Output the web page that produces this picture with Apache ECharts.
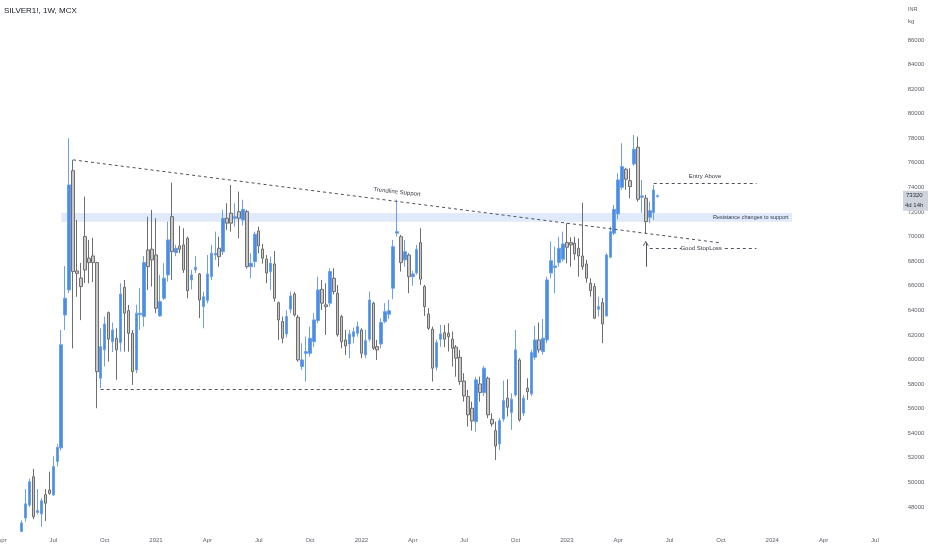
<!DOCTYPE html>
<html><head><meta charset="utf-8">
<script src="https://cdn.jsdelivr.net/npm/echarts@6/dist/echarts.min.js"></script>
<style>html,body{margin:0;padding:0;background:#fff}#c{width:932px;height:550px}</style>
</head><body><div id="c"></div>
<script>
// ---- axis / categories ----
const axisStartWeek = '2020-04-06';
const axisWeekCount = 227;
const firstCandleWeek = '2020-05-11';
const monthNames = ['Jan','Feb','Mar','Apr','May','Jun','Jul','Aug','Sep','Oct','Nov','Dec'];
const quarterMonths = [1, 4, 7, 10];

// ---- weekly OHLC (SILVER1!, MCX) ----
const open = [46000,47100,48150,50460,47550,47430,49000,49380,48980,51700,52800,63620,65660,75360,67200,66630,70000,68240,68420,67880,
58470,60780,63810,61450,61730,61370,65880,63970,62130,59150,63640,63490,68910,68970,68500,63540,64980,66880,71620,68690,
69240,69320,69860,66470,67290,66960,64300,64790,66740,68500,69050,68770,71490,71900,71490,72030,71350,72030,67550,67960,
70460,68990,68160,67150,67770,64620,63080,62080,64090,65330,63440,59420,60500,60500,61450,63160,65710,64440,64580,66610,
65390,63490,61590,61260,61860,62130,62400,60370,61650,64580,61040,61260,63080,63680,65800,70270,69990,68100,68500,66740,
67040,69510,65930,63700,62460,59370,61650,62180,62130,61650,61000,60180,58250,56980,56030,54940,58010,57300,58470,55130,
54210,53130,55160,56850,55680,57110,59960,55630,57660,57200,60180,61590,60640,61590,67040,67480,67880,68160,69510,69510,
69460,69050,68420,67770,66200,65930,64090,64620,63540,68320,70270,71840,74010,75480,74550,75910,77270,73200,73120,71570,
71950,73250];
const close = [46700,48250,50050,47200,47700,48500,48300,49110,51280,52850,61200,64980,74200,67150,67000,65930,67280,67880,67880,59010,
61040,62890,61650,62400,60780,65330,63760,62130,59010,63760,63760,67880,67550,68100,64170,64700,66610,69730,68770,69050,
68970,67290,65600,66880,67500,64840,65110,66960,68640,68640,68370,71490,71090,71090,71620,71490,72220,67550,67830,70190,
69240,68240,67040,67830,64980,63220,61730,63490,65170,63620,59960,59960,60640,61730,63220,65660,64580,64300,67150,65520,
62000,61450,61100,62080,62260,62670,60500,61530,64840,60910,60780,63000,63890,63970,69180,70400,67880,68770,66740,66960,
68970,66530,64300,62540,59290,61370,62080,61650,61860,60910,60100,58200,57030,55490,55000,58340,57300,59290,55490,54750,
52960,55020,56650,56110,56760,60780,55080,56850,57380,60560,61590,60780,61730,66470,68040,67610,69050,69400,69130,69320,
68590,68420,67550,66610,65600,63360,64300,62890,68500,70400,72220,74610,75690,74670,74060,77110,73040,73310,71220,72110,
73790,73320];
const low = [46000,46800,48000,47000,47400,46400,46850,48980,48900,51300,52600,62400,65400,60900,65100,63200,66230,66200,66300,56030,
57660,59420,59820,60600,58340,60640,60640,60640,57930,58900,62400,62670,65660,65930,63760,63500,64840,66330,66470,68400,
68640,67040,64980,65700,67040,63360,62540,64560,66470,68100,67550,68500,70540,70400,70800,69860,70900,67400,66610,67500,
68640,67800,66200,65660,64700,61590,61320,61800,63760,63500,59820,59150,58200,60230,61000,62950,64030,62000,64300,65300,
61860,60910,60370,60100,61300,61860,60100,60100,61450,60780,59960,60900,62950,63300,64900,69990,67150,67550,65390,66000,
66900,66060,63540,62400,58200,59100,61040,61000,60640,59420,58600,57930,56570,54530,54210,54130,56570,57030,55220,54530,
51820,52640,54940,55350,54270,56980,54940,55400,56710,57000,59960,60550,60400,61320,66610,65390,67550,67960,67830,67550,
68100,66740,67290,66250,65110,63280,63490,61320,63490,68240,70130,71410,73790,73800,73120,75750,72840,71950,70270,71090,
71350,73180];
const high = [46900,49450,50300,51100,49450,48700,49450,50870,52100,53100,62400,67600,78000,76240,71350,67850,73250,69730,69900,67950,
62540,63490,63900,63000,62540,66200,66470,64440,62400,64440,65800,68420,71620,72170,71490,66880,67830,71220,74390,69320,
70870,70680,70000,67300,68420,67040,65520,68500,69320,70400,70000,72170,72710,74200,72710,73660,73000,72170,68640,70400,
70810,69400,68500,68370,68830,64700,63490,64000,65520,65500,63620,61320,61860,62670,63760,66740,66470,66200,67420,67420,
66060,63620,62400,62400,62600,63080,62540,62400,65520,64700,61590,63350,64580,64850,69730,73000,70130,69730,68640,67200,
69320,70680,66060,64170,62670,61600,62810,62800,62940,62260,61180,60780,58880,57520,56570,58600,58600,59470,58600,55620,
54940,55220,58280,58390,57250,62400,60100,57100,58470,60780,62730,63000,63300,66740,69590,69180,69990,70400,71090,69940,
69990,69860,72760,68100,66610,66200,65110,65000,68640,70810,72570,75150,77590,75600,75560,78270,78130,74610,73390,72840,
74200,73420];
const lastPrice = 73320;
const barCountdown = '4d 14h';

// ---- drawings (data coordinates: week, price) ----
const trendline = [['2020-08-10', 76240], ['2023-10-02', 69480]];
const supportBase = [['2020-09-28', 57600], ['2022-06-13', 57600]];
const entryLine = [['2023-06-05', 74340], ['2023-12-04', 74340]];
const stopLeft = [['2023-05-29', 69050], ['2023-07-24', 69050]];
const stopRight = [['2023-10-09', 69050], ['2023-12-04', 69050]];
const arrowUp = [['2023-05-22', 67550], ['2023-05-22', 69460]];
const zone = [['2020-07-20', 71920], ['2024-02-05', 71200]];
const notes = [
  {text: 'Trendline Support', week: '2022-03-07', price: 73630, rotate: -6, align: 'center'},
  {text: 'Entry Above', week: '2023-09-04', price: 74880, rotate: 0, align: 'center'},
  {text: 'Good StopLoss', week: '2023-08-28', price: 69050, rotate: 0, align: 'center'},
  {text: 'Resistance changes to support', week: '2023-09-18', price: 71573, rotate: 0, align: 'left'}
];

// ---- build ----
function addDays(s, d) { const t = new Date(s + 'T00:00:00Z'); t.setUTCDate(t.getUTCDate() + d); return t.toISOString().slice(0, 10); }
const weeks = [];
for (let i = 0; i < axisWeekCount; i++) weeks.push(addDays(axisStartWeek, i * 7));
const offset = weeks.indexOf(firstCandleWeek);
const candles = weeks.map((w, i) => {
  const k = i - offset;
  return (k >= 0 && k < open.length) ? [open[k], close[k], low[k], high[k]] : '-';
});
function isQuarterStart(i) {
  const m = +weeks[i].slice(5, 7);
  if (quarterMonths.indexOf(m) < 0) return false;
  return i === 0 || weeks[i - 1].slice(5, 7) !== weeks[i].slice(5, 7);
}
const seg = (p) => [{coord: p[0]}, {coord: p[1]}];
const chevron = 'path://M0,10 L5,0 L10,10 L8.4,10 L5,3.2 L1.6,10 Z';
const FONT = "'Liberation Sans', Arial, sans-serif";

const chart = echarts.init(document.getElementById('c'), null, {renderer: 'canvas'});
chart.setOption({
  animation: false,
  backgroundColor: '#ffffff',
  grid: {left: 0, right: 35.35, top: 0, bottom: 18.5, containLabel: false, outerBoundsMode: 'none'},
  xAxis: {
    type: 'category', data: weeks, boundaryGap: true,
    axisLine: {show: false}, axisTick: {show: false}, splitLine: {show: false},
    axisLabel: {
      interval: (i) => isQuarterStart(i),
      formatter: (v) => { const m = +v.slice(5, 7); return m === 1 ? v.slice(0, 4) : monthNames[m - 1]; },
      color: '#5d606b', fontSize: 6, fontFamily: FONT, margin: 6, hideOverlap: false
    }
  },
  yAxis: {
    type: 'value', position: 'right', min: 46000, max: 89250, interval: 2000, scale: true,
    axisLine: {show: false}, axisTick: {show: false}, splitLine: {show: false},
    axisLabel: {
      showMaxLabel: false, showMinLabel: false,
      formatter: (v) => (v >= 88000 || v <= 46000) ? '' : String(v),
      color: '#5d606b', fontSize: 6, fontFamily: FONT, margin: 11, align: 'left'
    }
  },
  series: [{
    type: 'candlestick', data: candles, barWidth: 3,
    itemStyle: {color: '#4a8de2', color0: '#c8c8c8', borderColor: '#6aa1ea', borderColor0: '#6e6e6e', borderWidth: 1},
    markArea: {
      silent: true,
      itemStyle: {color: 'rgba(180,206,245,0.42)'},
      data: [[{coord: zone[0]}, {coord: zone[1]}]]
    },
    markLine: {
      silent: true, symbol: ['none', 'none'],
      lineStyle: {color: '#4e515c', width: 1, type: [3, 3]},
      label: {show: false},
      data: [seg(trendline), seg(supportBase), seg(entryLine), seg(stopLeft), seg(stopRight),
        [{coord: arrowUp[0], symbol: 'none', lineStyle: {type: 'solid', color: '#4e515c', width: 1}},
         {coord: arrowUp[1], symbol: chevron, symbolSize: [6, 5], lineStyle: {type: 'solid', color: '#4e515c', width: 1}}]]
    },
    markPoint: {
      silent: true, symbol: 'circle', symbolSize: 0,
      data: notes.map(n => ({
        coord: [n.week, n.price],
        label: {show: true, position: 'inside', formatter: n.text, rotate: n.rotate, align: n.align,
          color: '#363a45', fontSize: n.align === 'left' ? 5.5 : 6, fontFamily: FONT}
      }))
    }
  }]
});

const py = chart.convertToPixel({yAxisIndex: 0}, lastPrice);
chart.setOption({
  graphic: [
    {type: 'text', left: 4, top: 7, style: {text: 'SILVER1!, 1W, MCX', fill: '#131722', font: "8px 'Liberation Sans Narrow', 'Liberation Sans', sans-serif"}},
    {type: 'text', left: 908, top: 6, style: {text: 'INR', fill: '#5d606b', font: "5.5px 'Liberation Sans', sans-serif"}},
    {type: 'text', left: 908, top: 18, style: {text: 'kg', fill: '#5d606b', font: "6px 'Liberation Sans', sans-serif"}},
    {type: 'rect', shape: {x: 903, y: py - 5, width: 25, height: 20}, style: {fill: '#cfd3dc'}, z: 100},
    {type: 'text', x: 906, y: py, style: {text: String(lastPrice), fill: '#2a2e39', font: "6px 'Liberation Sans', sans-serif", verticalAlign: 'middle'}, z: 101},
    {type: 'text', x: 905, y: py + 10, style: {text: barCountdown, fill: '#2a2e39', font: "6px 'Liberation Sans', sans-serif", verticalAlign: 'middle'}, z: 101}
  ]
});
</script></body></html>
